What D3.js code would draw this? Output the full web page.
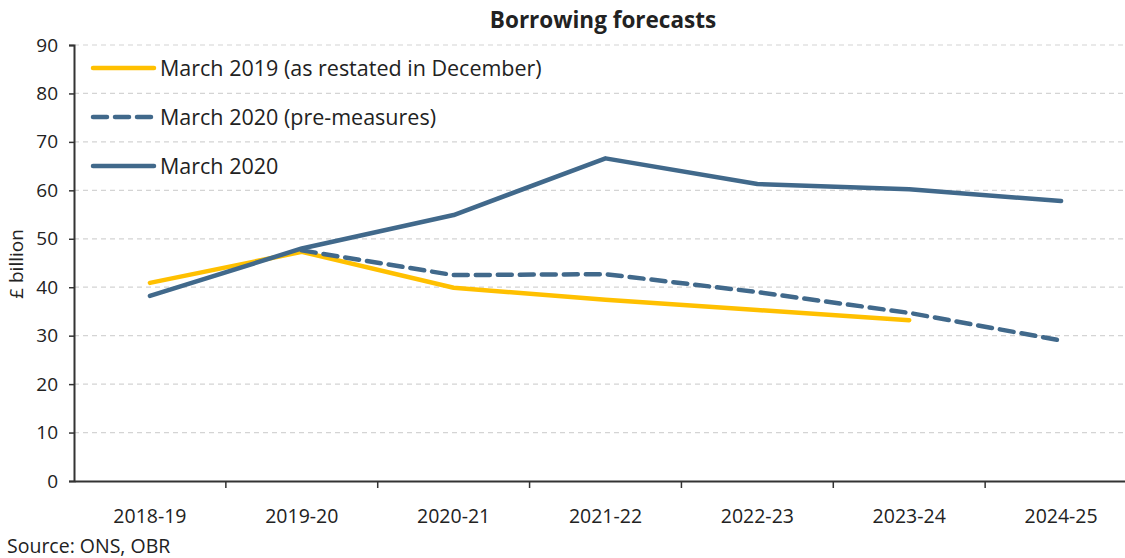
<!DOCTYPE html>
<html>
<head>
<meta charset="utf-8">
<script src="https://cdn.jsdelivr.net/npm/d3@7"></script>
<style>
  body { margin: 0; background: #fff; }
  text { font-family: "Open Sans", Lato, sans-serif; fill: #222; }
</style>
</head>
<body>
<svg width="1125" height="558"></svg>
<script>
var years = ["2018-19", "2019-20", "2020-21", "2021-22", "2022-23", "2023-24", "2024-25"];
var march2019 = [40.9, 47.3, 39.9, 37.4, 35.3, 33.2, null];
var march2020Pre = [null, 47.6, 42.5, 42.7, 39.0, 34.7, 29.0];
var march2020 = [38.2, 48.0, 54.9, 66.6, 61.3, 60.2, 57.8];
var yTicks = [0, 10, 20, 30, 40, 50, 60, 70, 80, 90];

var series = [
  {name: "March 2019 (as restated in December)", values: march2019, color: "#FFC000", dash: null},
  {name: "March 2020 (pre-measures)", values: march2020Pre, color: "#41698B", dash: "14,8"},
  {name: "March 2020", values: march2020, color: "#41698B", dash: null}
];

var svg = d3.select("svg");

var x = d3.scaleBand().domain(years).range([74, 1137]);
var y = d3.scaleLinear().domain([0, 90]).range([481, 45]);

// gridlines
svg.append("g").selectAll("line")
    .data(yTicks.filter(d => d > 0))
    .join("line")
    .attr("x1", 74).attr("x2", 1125)
    .attr("y1", d => y(d)).attr("y2", d => y(d))
    .attr("stroke", "#d4d4d4")
    .attr("stroke-width", 1.2)
    .attr("stroke-dasharray", "5,4");

// y axis
var yAxis = svg.append("g")
    .attr("transform", "translate(74,0)")
    .call(d3.axisLeft(y).tickValues(yTicks).tickSize(5).tickPadding(11));
yAxis.select(".domain").attr("stroke", "#333").attr("stroke-width", 2);
yAxis.selectAll(".tick line").attr("stroke", "#333").attr("stroke-width", 1.5);
yAxis.selectAll("text").attr("font-size", 19).attr("font-family", "'Open Sans', sans-serif").attr("fill", "#222");

// x axis
var xAxis = svg.append("g")
    .attr("transform", "translate(0,481)")
    .call(d3.axisBottom(x).tickSize(0).tickPadding(28));
xAxis.select(".domain").attr("stroke", "#333").attr("stroke-width", 2);
xAxis.selectAll("text").attr("font-size", 19.5).attr("font-family", "'Open Sans', sans-serif").attr("fill", "#222");
svg.append("g").selectAll("line")
    .data(years.slice(1))
    .join("line")
    .attr("x1", d => x(d)).attr("x2", d => x(d))
    .attr("y1", 481).attr("y2", 488)
    .attr("stroke", "#333").attr("stroke-width", 1.5);

// lines
var line = d3.line()
    .defined(d => d[1] != null)
    .x(d => x(d[0]) + x.bandwidth() / 2)
    .y(d => y(d[1]));

svg.append("g").selectAll("path")
    .data(series)
    .join("path")
    .attr("d", s => line(years.map((yr, i) => [yr, s.values[i]])))
    .attr("fill", "none")
    .attr("stroke", s => s.color)
    .attr("stroke-width", 4.5)
    .attr("stroke-linecap", "round")
    .attr("stroke-linejoin", "round")
    .attr("stroke-dasharray", s => s.dash);

// legend
var legend = svg.append("g").selectAll("g")
    .data(series)
    .join("g")
    .attr("transform", (d, i) => "translate(91," + (68 + i * 49) + ")");
legend.append("line")
    .attr("x1", 2).attr("x2", 63)
    .attr("stroke", d => d.color)
    .attr("stroke-width", 4.5)
    .attr("stroke-linecap", "round")
    .attr("stroke-dasharray", d => d.dash);
legend.append("text")
    .attr("x", 69).attr("dy", "0.35em")
    .attr("font-size", 21.5)
    .text(d => d.name);

// title
svg.append("text")
    .attr("x", 603).attr("y", 28)
    .attr("text-anchor", "middle")
    .attr("font-size", 22.5).attr("font-weight", "bold")
    .text("Borrowing forecasts");

// y label
svg.append("text")
    .attr("transform", "translate(23,264) rotate(-90)")
    .attr("text-anchor", "middle")
    .attr("font-size", 19)
    .text("£ billion");

// source
svg.append("text")
    .attr("x", 7).attr("y", 553)
    .attr("font-size", 19.5)
    .text("Source: ONS, OBR");
</script>
</body>
</html>
